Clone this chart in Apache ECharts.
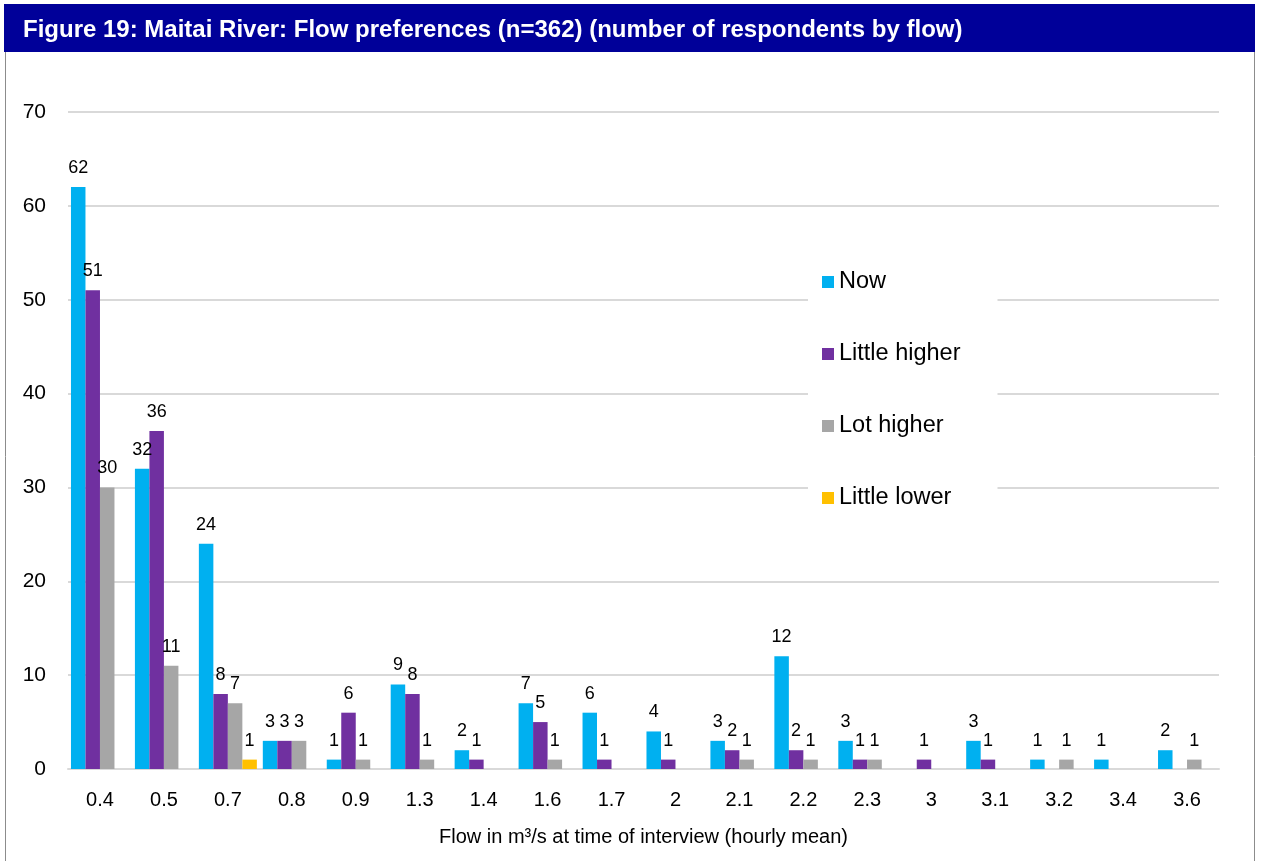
<!DOCTYPE html>
<html>
<head>
<meta charset="utf-8">
<script src="https://cdn.jsdelivr.net/npm/echarts@6/dist/echarts.min.js"></script>
<style>
html,body{margin:0;padding:0;background:#fff;}
#chart{width:1261px;height:861px;}
</style>
</head>
<body>
<div id="chart"></div>
<script>
const categories = ['0.4','0.5','0.7','0.8','0.9','1.3','1.4','1.6','1.7','2','2.1','2.2','2.3','3','3.1','3.2','3.4','3.6'];
const nowValues =         [62, 32, 24, 3, 1, 9, 2, 7, 6, 4, 3, 12, 3, null, 3, 1, 1, 2];
const littleHigherValues =[51, 36, 8, 3, 6, 8, 1, 5, 1, 1, 2, 2, 1, 1, 1, null, null, null];
const lotHigherValues =   [30, 11, 7, 3, 1, 1, null, 1, null, null, 1, 1, 1, null, null, 1, null, 1];
const littleLowerValues = [null, null, 1, null, null, null, null, null, null, null, null, null, null, null, null, null, null, null];
const seriesNames = ['Now', 'Little higher', 'Lot higher', 'Little lower'];
const yTicks = {min: 0, max: 70, interval: 10};
const titleText = 'Figure 19: Maitai River: Flow preferences (n=362) (number of respondents by flow)';
const xAxisTitle = 'Flow in m\u00B3/s at time of interview (hourly mean)';

const colors = ['#00B0F0', '#7030A0', '#A6A6A6', '#FFC000'];
const font = '"Liberation Sans", Arial, sans-serif';

function mkSeries(name, data, color) {
  return {
    name: name,
    type: 'bar',
    data: data,
    barWidth: 14.5,
    barGap: '0%',
    itemStyle: {color: color},
    label: {
      show: true,
      position: 'top',
      distance: 10,
      color: '#000',
      fontFamily: font,
      fontSize: 18
    }
  };
}

const chart = echarts.init(document.getElementById('chart'));
chart.setOption({
  animation: false,
  backgroundColor: '#fff',
  color: colors,
  graphic: [
    {type: 'rect', shape: {x: 4, y: 4, width: 1251, height: 48}, style: {fill: '#000099'}, z: 0},
    {type: 'line', shape: {x1: 5.5, y1: 52, x2: 5.5, y2: 861}, style: {stroke: '#8c8c8c', lineWidth: 1}},
    {type: 'line', shape: {x1: 1254.5, y1: 52, x2: 1254.5, y2: 861}, style: {stroke: '#8c8c8c', lineWidth: 1}}
  ],
  title: {
    text: titleText,
    left: 18,
    top: 13,
    textStyle: {color: '#fff', fontFamily: font, fontWeight: 'bold', fontSize: 24}
  },
  legend: {
    orient: 'vertical',
    left: 808,
    top: 245,
    padding: [25, 37, 25, 14],
    backgroundColor: '#fff',
    itemWidth: 12,
    itemHeight: 12,
    itemGap: 48,
    icon: 'rect',
    data: seriesNames,
    textStyle: {color: '#000', fontFamily: font, fontSize: 23.5, lineHeight: 23.5},
    z: 10
  },
  grid: {left: 68, right: 42, top: 112, bottom: 92, containLabel: false},
  xAxis: {
    type: 'category',
    data: categories,
    axisTick: {show: false},
    axisLine: {lineStyle: {color: '#d9d9d9', width: 2}},
    axisLabel: {color: '#000', fontFamily: font, fontSize: 20, margin: 21},
    name: xAxisTitle,
    nameLocation: 'middle',
    nameGap: 58,
    nameTextStyle: {color: '#000', fontFamily: font, fontSize: 20}
  },
  yAxis: {
    type: 'value',
    min: yTicks.min,
    max: yTicks.max,
    interval: yTicks.interval,
    axisLine: {show: false},
    axisTick: {show: false},
    splitLine: {lineStyle: {color: '#d9d9d9', width: 2}},
    axisLabel: {color: '#000', fontFamily: font, fontSize: 21, margin: 22}
  },
  series: [
    mkSeries(seriesNames[0], nowValues, colors[0]),
    mkSeries(seriesNames[1], littleHigherValues, colors[1]),
    mkSeries(seriesNames[2], lotHigherValues, colors[2]),
    mkSeries(seriesNames[3], littleLowerValues, colors[3])
  ]
});
</script>
</body>
</html>
